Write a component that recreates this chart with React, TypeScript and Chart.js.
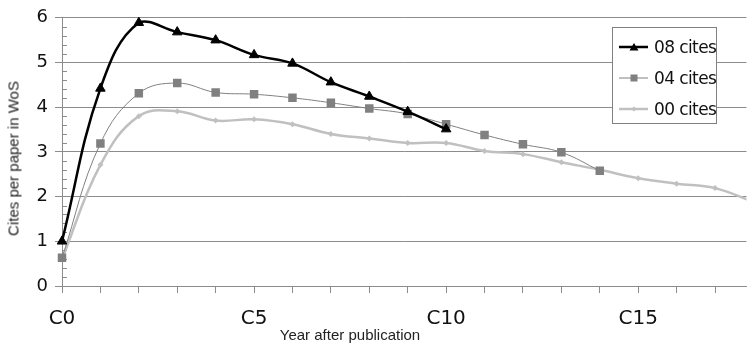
import React, { useEffect, useRef } from 'react';
import { Chart, registerables } from 'chart.js';

Chart.register(...registerables);

// ---- data ----
const years = [0, 1, 2, 3, 4, 5, 6, 7, 8, 9, 10, 11, 12, 13, 14, 15, 16, 17, 18];
const cites08 = [1.0, 4.42, 5.89, 5.68, 5.5, 5.17, 4.98, 4.56, 4.24, 3.9, 3.51];
const cites04 = [0.63, 3.19, 4.31, 4.54, 4.33, 4.29, 4.21, 4.1, 3.97, 3.85, 3.62, 3.38, 3.17, 2.99, 2.58];
const cites00 = [0.6, 2.71, 3.8, 3.91, 3.7, 3.73, 3.62, 3.4, 3.3, 3.2, 3.2, 3.02, 2.95, 2.77, 2.6, 2.41, 2.29, 2.19, 1.88];
const seriesLabels = ['08 cites', '04 cites', '00 cites'];
const xTickLabels: Record<number, string> = { 0: 'C0', 5: 'C5', 10: 'C10', 15: 'C15' };
const xTitle = 'Year after publication';
const yTitle = 'Cites per paper in WoS';

const colors = ['#000000', '#808080', '#c0c0c0'];
const GRID = '#8c8c8c';

const toPoints = (vals: number[]) => vals.map((v, i) => ({ x: years[i], y: v }));

const minorTicks = {
  id: 'minorTicks',
  beforeDatasetsDraw(chart: any) {
    const y = chart.scales.y;
    const ctx = chart.ctx;
    ctx.save();
    ctx.strokeStyle = GRID;
    ctx.lineWidth = 1;
    for (let i = 0; i <= 30; i++) {
      if (i % 5 === 0) continue;
      const py = Math.round(y.getPixelForValue(i * 0.2)) + 0.5;
      ctx.beginPath();
      ctx.moveTo(y.right, py);
      ctx.lineTo(y.right + 5, py);
      ctx.stroke();
    }
    ctx.restore();
  },
};

function LegendSample({ idx }: { idx: number }) {
  const c = colors[idx];
  const lw = idx === 1 ? 1 : 2.5;
  let marker: React.ReactNode = null;
  if (idx === 0) marker = <polygon points="15,2 19.5,9.5 10.5,9.5" fill={c} />;
  if (idx === 1) marker = <rect x={11.5} y={2.5} width={7} height={7} fill={c} />;
  if (idx === 2) marker = <polygon points="15,3.5 17.5,6 15,8.5 12.5,6" fill={c} />;
  return (
    <svg width={29} height={12} style={{ display: 'block' }}>
      <line x1={0} y1={6} x2={29} y2={6} stroke={c} strokeWidth={lw} />
      {marker}
    </svg>
  );
}

export default function App() {
  const ref = useRef<HTMLCanvasElement>(null);
  useEffect(() => {
    if (!ref.current) return;
    const clip = { left: 12, top: 12, right: 0, bottom: 12 } as any;
    const chart = new Chart(ref.current, {
      type: 'line',
      data: {
        datasets: [
          {
            label: seriesLabels[0],
            data: toPoints(cites08),
            borderColor: colors[0],
            backgroundColor: colors[0],
            borderWidth: 2.5,
            pointStyle: 'triangle',
            pointRadius: 5.5,
            pointBorderWidth: 1,
            tension: 0.4,
            clip,
          },
          {
            label: seriesLabels[1],
            data: toPoints(cites04),
            borderColor: colors[1],
            backgroundColor: colors[1],
            borderWidth: 1,
            pointStyle: 'rect',
            pointRadius: 6,
            pointBorderWidth: 0,
            tension: 0.4,
            clip,
          },
          {
            label: seriesLabels[2],
            data: toPoints(cites00),
            borderColor: colors[2],
            backgroundColor: colors[2],
            borderWidth: 2.5,
            pointStyle: 'rectRot',
            pointRadius: 3,
            pointBorderWidth: 0,
            tension: 0.4,
            clip,
          },
        ],
      },
      options: {
        animation: false,
        responsive: false,
        devicePixelRatio: 1,
        layout: { padding: { top: 17, right: 0, left: 0, bottom: 0 } },
        plugins: { legend: { display: false }, tooltip: { enabled: false } },
        scales: {
          x: {
            type: 'linear',
            min: 0,
            max: 17.82,
            ticks: {
              stepSize: 1,
              autoSkip: false,
              includeBounds: false,
              maxRotation: 0,
              padding: 14,
              color: '#111',
              font: { family: 'DejaVu Sans', size: 20 },
              callback: (v: any) => xTickLabels[v as number] ?? '',
            },
            grid: { drawOnChartArea: false, tickLength: 7, color: GRID },
            border: { color: GRID, width: 1 },
            afterFit: (s: any) => {
              s.height = 59;
            },
          },
          y: {
            min: 0,
            max: 6,
            ticks: {
              stepSize: 1,
              padding: 7,
              color: '#111',
              font: { family: 'DejaVu Sans', size: 18 },
            },
            grid: { color: GRID, tickLength: 7 },
            border: { color: GRID, width: 1 },
            afterFit: (s: any) => {
              s.width = 62;
            },
          },
        },
      },
      plugins: [minorTicks],
    });
    return () => chart.destroy();
  }, []);

  return (
    <div style={{ position: 'absolute', left: 0, top: 0, width: 753, height: 345, background: '#fff', overflow: 'hidden' }}>
      <canvas ref={ref} width={753} height={345} style={{ display: 'block' }} />
      <div
        style={{
          position: 'absolute',
          left: 250,
          top: 326,
          width: 200,
          height: 17,
          lineHeight: '17px',
          textAlign: 'center',
          whiteSpace: 'nowrap',
          font: '15px/17px "Liberation Sans", Arial, sans-serif',
          color: '#222',
        }}
      >
        {xTitle}
      </div>
      <div
        style={{
          position: 'absolute',
          left: -87.5,
          top: 149.5,
          width: 200,
          height: 17,
          textAlign: 'center',
          transform: 'rotate(-90deg)',
          transformOrigin: '50% 50%',
          whiteSpace: 'nowrap',
          font: '15px/17px "Liberation Sans", Arial, sans-serif',
          color: '#222',
        }}
      >
        {yTitle}
      </div>
      <div
        style={{
          position: 'absolute',
          left: 612,
          top: 27,
          width: 105,
          height: 97,
          boxSizing: 'border-box',
          border: '1px solid #808080',
          background: '#fff',
          paddingTop: 3,
        }}
      >
        {seriesLabels.map((lab, i) => (
          <div key={lab} style={{ display: 'flex', alignItems: 'center', height: 31 }}>
            <div style={{ marginLeft: 6, marginRight: 6 }}>
              <LegendSample idx={i} />
            </div>
            <span
              style={{
                font: '17px "DejaVu Sans", sans-serif',
                letterSpacing: '-0.6px',
                color: '#111',
                whiteSpace: 'nowrap',
              }}
            >
              {lab}
            </span>
          </div>
        ))}
      </div>
    </div>
  );
}
